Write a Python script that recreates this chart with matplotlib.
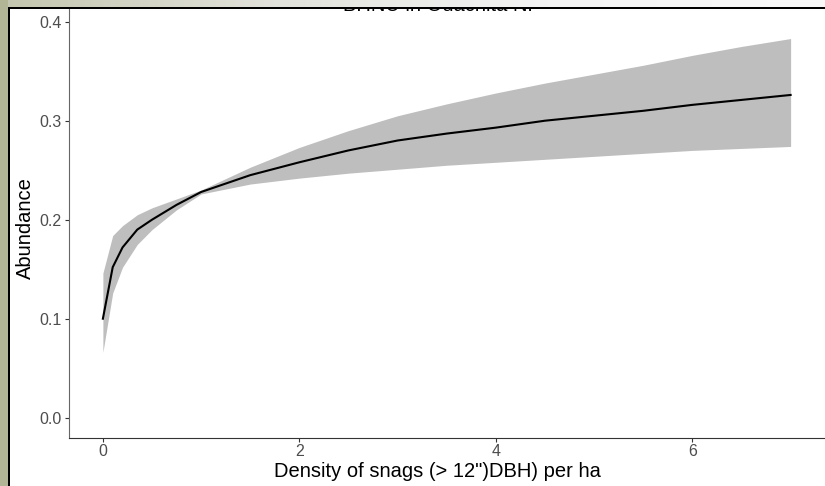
import numpy as np
import matplotlib.pyplot as plt
from matplotlib.patches import Rectangle

plt.rcParams['font.family'] = ['Liberation Sans', 'DejaVu Sans']

# predicted abundance vs snag density, with confidence band
snags = [0, 0.1, 0.2, 0.35, 0.5, 0.75, 1.0, 1.5, 2, 2.5, 3, 3.5, 4, 4.5, 5, 5.5, 6, 6.5, 7]
abund = [0.100, 0.152, 0.172, 0.190, 0.200, 0.215, 0.228, 0.245, 0.258, 0.270,
         0.280, 0.287, 0.293, 0.300, 0.305, 0.310, 0.316, 0.321, 0.326]
lower = [0.066, 0.126, 0.152, 0.175, 0.190, 0.210, 0.226, 0.236, 0.242, 0.247,
         0.251, 0.255, 0.258, 0.261, 0.264, 0.267, 0.270, 0.272, 0.274]
upper = [0.146, 0.184, 0.194, 0.205, 0.212, 0.221, 0.230, 0.253, 0.273, 0.290,
         0.305, 0.317, 0.328, 0.338, 0.347, 0.356, 0.366, 0.375, 0.383]

xticks = [0, 2, 4, 6]
yticks = [0.0, 0.1, 0.2, 0.3, 0.4]

W, H = 825, 486
fig = plt.figure(figsize=(W / 100, H / 100), dpi=100)
fig.patch.set_facecolor('white')

ax = fig.add_axes([68.5 / W, 48.5 / H, (W - 68.5) / W, (484.1 - 48.5) / H])
ax.fill_between(snags, lower, upper, color='#bebebe', lw=0)
ax.plot(snags, abund, color='black', lw=1.5)
ax.set_xlim(-0.35, 7.35)
ax.set_ylim(-0.02, 0.42)
ax.set_xticks(xticks)
ax.set_xticklabels([str(t) for t in xticks])
ax.set_yticks(yticks)
ax.set_yticklabels(['%.1f' % t for t in yticks])
for s in ['top', 'right']:
    ax.spines[s].set_visible(False)
ax.spines['left'].set_color('#666666')
ax.spines['bottom'].set_color('#333333')
ax.tick_params(length=3, width=0.8, color='#333333', labelcolor='#4d4d4d',
               labelsize=11.5, pad=2)

fig.text(437 / W, 1 - 476.5 / H, 'Density of snags (> 12")DBH) per ha',
         ha='center', va='baseline', fontsize=14.5)
fig.text(25 / W, 1 - 228 / H, 'Abundance', ha='center', va='center',
         rotation=90, fontsize=14.5)
fig.text(441 / W, 1 - 10.7 / H, 'BHNU in Ouachita NF', ha='center',
         va='baseline', fontsize=14.5)

# window frame drawn over the plot
ov = fig.add_axes([0, 0, 1, 1], zorder=10)
ov.set_xlim(0, W)
ov.set_ylim(H, 0)
ov.axis('off')
ov.patch.set_alpha(0)
grad = np.linspace(0, 1, 256)[None, :]
ov.imshow(grad, extent=(0, W, 7, 0), aspect='auto',
          cmap=plt.matplotlib.colors.LinearSegmentedColormap.from_list(
              'bar', ['#c4c6ae', '#e2e2dc', '#f4f4f4', '#f9f9f9']))
ov.add_patch(Rectangle((0, 0), 8, H, color='#b2b696', lw=0))
ov.add_patch(Rectangle((8, 7), W - 8, 2, color='black', lw=0))
ov.add_patch(Rectangle((8, 7), 2, H - 7, color='black', lw=0))

fig.savefig('out.png', dpi=100)
